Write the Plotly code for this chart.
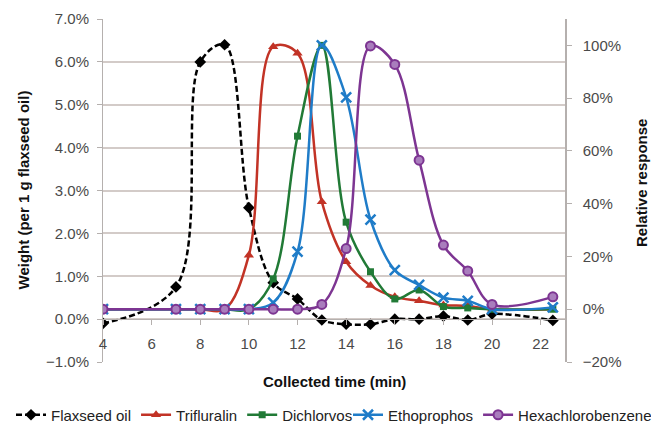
import plotly.graph_objects as go

# ---- data ----
time_min = [4, 7, 8, 9, 10, 11, 12, 13, 14, 15, 16, 17, 18, 19, 20, 22.5]
flaxseed_oil = [-0.0010, 0.0075, 0.0600, 0.0640, 0.0260, 0.0085, 0.0047, -0.0002,
                -0.0012, -0.0012, 0.0000, 0.0000, 0.0007, -0.0002, 0.0012, -0.0003]
trifluralin = [0.0, 0.0, 0.0, 0.0, 0.205, 0.995, 0.97, 0.407, 0.18, 0.09, 0.047,
               0.032, 0.016, 0.012, 0.0, 0.0]
dichlorvos = [0.0, 0.0, 0.0, 0.0, 0.0, 0.115, 0.656, 1.0, 0.33, 0.142, 0.039,
              0.073, 0.01, 0.005, 0.0, 0.0]
ethoprophos = [0.0, 0.0, 0.0, 0.0, 0.0, 0.025, 0.218, 1.0, 0.803, 0.34, 0.148,
               0.092, 0.044, 0.032, 0.0, 0.007]
hexachlorobenzene = [0.0, 0.0, 0.0, 0.0, 0.0, 0.0, 0.0, 0.018, 0.23, 0.998, 0.928,
                     0.565, 0.243, 0.145, 0.018, 0.047]

x_ticks = [4, 6, 8, 10, 12, 14, 16, 18, 20, 22]

FONT = "Liberation Sans, Arial, sans-serif"
GRID = "#d3cbc8"
AXIS = "#b5b0ae"
TICKFONT = dict(family=FONT, size=15, color="#4a4a4a")
LEGFONT = dict(family=FONT, size=15, color="#222")

W, H = 651, 426
PLOT_L, PLOT_R, PLOT_T, PLOT_B = 103, 565, 19, 362
PLOT_W = PLOT_R - PLOT_L
PLOT_H = PLOT_B - PLOT_T

fig = go.Figure()

fig.add_trace(go.Scatter(
    x=time_min, y=flaxseed_oil, name="Flaxseed oil", yaxis="y", legend="legend",
    mode="lines+markers", line=dict(color="black", width=2.5, dash="6px,3px", shape="spline"),
    marker=dict(symbol="diamond", size=9, color="black")))

fig.add_trace(go.Scatter(
    x=time_min, y=trifluralin, name="Trifluralin", yaxis="y2", legend="legend",
    mode="lines+markers", line=dict(color="#c23326", width=2.5, shape="spline"),
    marker=dict(symbol="triangle-up", size=9, color="#c23326")))

fig.add_trace(go.Scatter(
    x=time_min, y=dichlorvos, name="Dichlorvos", yaxis="y2", legend="legend",
    mode="lines+markers", line=dict(color="#217a36", width=2.5, shape="spline"),
    marker=dict(symbol="square", size=7, color="#217a36")))

fig.add_trace(go.Scatter(
    x=time_min, y=ethoprophos, name="Ethoprophos", yaxis="y2", legend="legend2",
    mode="lines+markers", line=dict(color="#1f7cc8", width=2.5, shape="spline"),
    marker=dict(symbol="x-thin", size=10, color="#1f7cc8",
                line=dict(color="#1f7cc8", width=2.5))))

fig.add_trace(go.Scatter(
    x=time_min, y=hexachlorobenzene, name="Hexachlorobenzene", yaxis="y2", legend="legend2",
    mode="lines+markers", line=dict(color="#7d3592", width=2.5, shape="spline"),
    marker=dict(symbol="circle", size=9, color="#a97dbd",
                line=dict(color="#7d3592", width=2))))

leg_y = (H - 415) / H

fig.update_layout(
    width=W, height=H,
    margin=dict(l=PLOT_L, r=W - PLOT_R, t=PLOT_T, b=H - PLOT_B, autoexpand=False),
    paper_bgcolor="white", plot_bgcolor="white",
    font=dict(family=FONT, size=14, color="#222"),
    showlegend=True,
    legend=dict(orientation="h", xref="container", x=11 / W, xanchor="left",
                yref="container", y=leg_y, yanchor="middle",
                font=LEGFONT, bgcolor="rgba(0,0,0,0)"),
    legend2=dict(orientation="h", xref="container", x=348 / W, xanchor="left",
                 yref="container", y=leg_y, yanchor="middle",
                 font=LEGFONT, bgcolor="rgba(0,0,0,0)"),
    xaxis=dict(range=[4, 23], tickvals=x_ticks, anchor="free", position=0.125,
               showgrid=False, zeroline=False, showline=True, linecolor=AXIS, linewidth=1,
               ticks="outside", ticklen=5, tickcolor=AXIS, tickfont=TICKFONT,
               ticklabelstandoff=6),
    yaxis=dict(range=[-0.01, 0.07], dtick=0.01, tick0=0, tickformat=".1%",
               showgrid=True, gridcolor=GRID, gridwidth=1.5, zeroline=False,
               showline=True, linecolor=AXIS, linewidth=1,
               ticks="outside", ticklen=5, tickcolor=AXIS, tickfont=TICKFONT,
               ticklabelstandoff=5),
    yaxis2=dict(range=[-0.2, 1.1], dtick=0.2, tick0=0, tickformat=".0%",
                overlaying="y", side="right", showgrid=False, zeroline=False,
                showline=True, linecolor=AXIS, linewidth=1.5,
                ticks="outside", ticklen=5, tickcolor=AXIS, tickfont=TICKFONT,
                ticklabelstandoff=8),
    annotations=[
        dict(text="<b>Collected time (min)</b>", xref="paper", yref="paper",
             x=0.5, y=(PLOT_B - 381) / PLOT_H, xanchor="center", yanchor="middle",
             showarrow=False, font=dict(family=FONT, size=15, color="#111")),
        dict(text="<b>Weight (per 1 g flaxseed oil)</b>", xref="paper", yref="paper",
             x=(23 - PLOT_L) / PLOT_W, y=0.5, xanchor="center", yanchor="middle",
             textangle=-90, showarrow=False,
             font=dict(family=FONT, size=15, color="#111")),
        dict(text="<b>Relative response</b>", xref="paper", yref="paper",
             x=(641 - PLOT_L) / PLOT_W, y=(PLOT_B - 183) / PLOT_H,
             xanchor="center", yanchor="middle", textangle=-90,
             showarrow=False, font=dict(family=FONT, size=15, color="#111")),
    ],
)

fig.write_html("out.html")
